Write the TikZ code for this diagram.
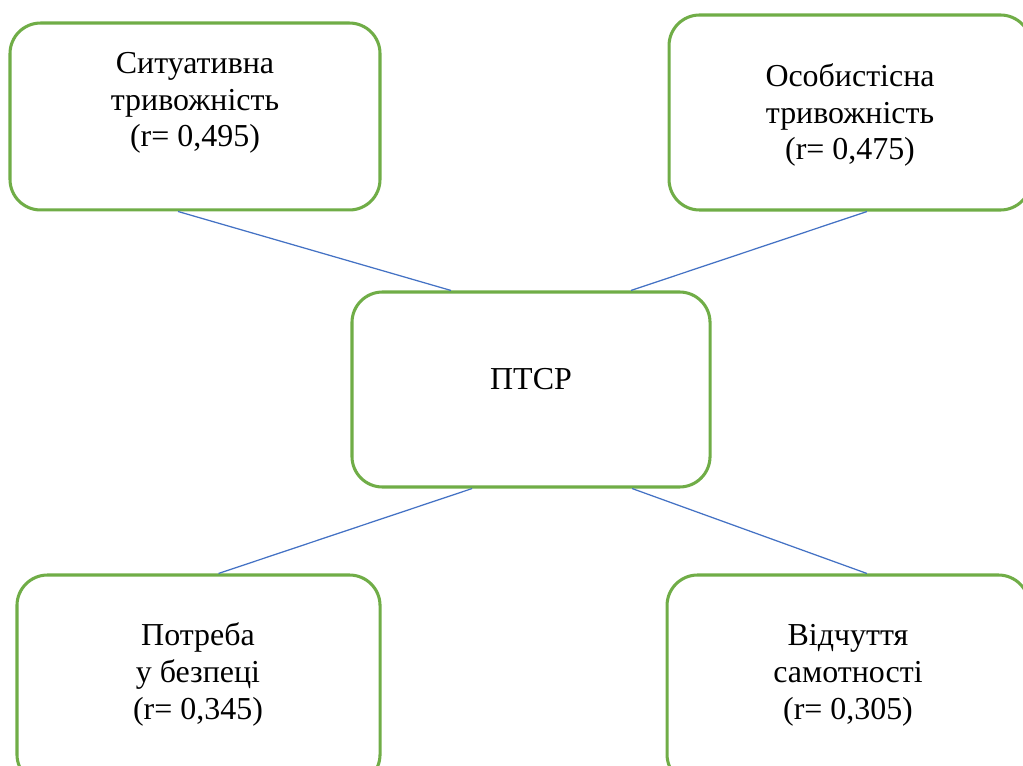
\documentclass[tikz,border=0pt]{standalone}
\usepackage{fontspec}
\setmainfont{Liberation Serif}
\usepackage{xcolor}
\usepackage{tikz}
\usetikzlibrary{shapes.geometric, positioning}
\definecolor{boxgreen}{RGB}{112,173,71}
\definecolor{lineblue}{RGB}{68,114,196}
\tikzstyle{block} = [rectangle, rounded corners=11pt, draw=boxgreen, line width=1.1pt, fill=white]
\tikzstyle{boxtext} = [align=center, inner sep=0pt, anchor=base, font=\fontsize{11.5}{13.3}\selectfont]
\tikzstyle{connect} = [draw=lineblue, line width=0.45pt]

\begin{document}
\begin{tikzpicture}[x=0.36pt, y=-0.36pt]
  \useasboundingbox (0,0) rectangle (1023,765);
  \clip (0,0) rectangle (1023,765);

  \node (sit)   [block, minimum width=133.2pt, minimum height=67.3pt] at (195,116.5) {};
  \node (osob)  [block, minimum width=130.3pt, minimum height=70.2pt] at (850,112.5) {};
  \node (ptsr)  [block, minimum width=128.9pt, minimum height=70.2pt] at (531,389.5) {};
  \node (potr)  [block, minimum width=130.7pt, minimum height=75.6pt] at (198.5,680) {};
  \node (vidch) [block, minimum width=130.3pt, minimum height=75.6pt] at (848,680) {};

  % base anchor sits on the last line
  \node (sit-t)   [boxtext] at (195,147) {Ситуативна\\тривожність\\(r= 0,495)};
  \node (osob-t)  [boxtext] at (850,160) {Особистісна\\тривожність\\(r= 0,475)};
  \node (ptsr-t)  [boxtext] at (531,389) {ПТСР};
  \node (potr-t)  [boxtext] at (198,719) {Потреба\\у безпеці\\(r= 0,345)};
  \node (vidch-t) [boxtext] at (848,719) {Відчуття\\самотності\\(r= 0,305)};

  \draw [connect] ([xshift=-6.1pt]sit.south) -- ([xshift=-28.8pt]ptsr.north);
  \draw [connect] ([xshift=6.1pt]osob.south) -- ([xshift=36pt]ptsr.north);
  \draw [connect] ([xshift=-21.2pt]ptsr.south) -- ([xshift=7.2pt]potr.north);
  \draw [connect] ([xshift=36.4pt]ptsr.south) -- ([xshift=6.8pt]vidch.north);
\end{tikzpicture}
\end{document}
